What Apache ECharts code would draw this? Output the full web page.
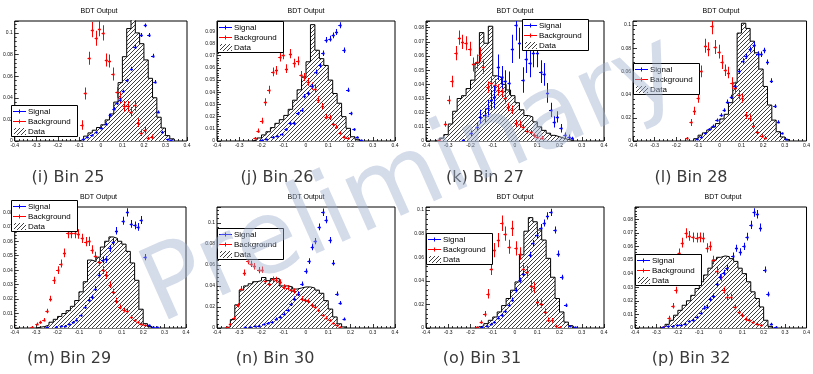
<!DOCTYPE html>
<html>
<head>
<meta charset="utf-8">
<script src="https://cdn.jsdelivr.net/npm/echarts@6/dist/echarts.min.js"></script>
<style>
  html, body { margin: 0; padding: 0; background: #fff; }
  #chart { width: 813px; height: 374px; }
</style>
</head>
<body>
<div id="chart"></div>
<script>
// ---- BDT output distributions, 8 categories -------------------------------
const binWidth = 0.02;          // data histogram bin width
const xRange = [-0.4, 0.4];
const xStep = 0.1;

const captions = ['(i) Bin 25', '(j) Bin 26', '(k) Bin 27', '(l) Bin 28',
                  '(m) Bin 29', '(n) Bin 30', '(o) Bin 31', '(p) Bin 32'];
const yMax  = [0.111, 0.0985, 0.0847, 0.1034, 0.0837, 0.115, 0.1025, 0.089];
const yStep = [0.02, 0.01, 0.01, 0.02, 0.01, 0.02, 0.02, 0.01];

// Data histograms: low edge of the first filled bin, then bin contents
const hI0 = -0.10;
const hI = [0.0015, 0.0045, 0.0075, 0.010, 0.0125, 0.015, 0.0195, 0.025, 0.036, 0.054, 0.078,
            0.104, 0.118, 0.100, 0.090, 0.075, 0.058, 0.040, 0.022, 0.012, 0.005, 0.002];
const hJ0 = -0.24;
const hJ = [0.0008, 0.0025, 0.005, 0.0076, 0.011, 0.0145, 0.0175, 0.021, 0.026, 0.0335, 0.042,
            0.0526, 0.065, 0.0955, 0.0745, 0.0676, 0.062, 0.05, 0.039, 0.031, 0.02, 0.0104,
            0.0035, 0.0014];
const hK0 = -0.36;
const hK = [0.0005, 0.002, 0.0045, 0.012, 0.021, 0.030, 0.032, 0.037, 0.043, 0.055, 0.0765,
            0.069, 0.081, 0.046, 0.045, 0.040, 0.036, 0.032, 0.027, 0.022, 0.018, 0.017,
            0.0135, 0.010, 0.0075, 0.0055, 0.004, 0.003, 0.002, 0.001, 0.0005];
const hL0 = -0.12;
const hL = [0.002, 0.005, 0.007, 0.0095, 0.012, 0.015, 0.019, 0.023, 0.033, 0.05, 0.093,
            0.1015, 0.097, 0.086, 0.076, 0.062, 0.047, 0.031, 0.018, 0.008, 0.0035, 0.0012];
const hM0 = -0.30;
const hM = [0.0005, 0.001, 0.002, 0.004, 0.006, 0.008, 0.010, 0.012, 0.015, 0.019, 0.025,
            0.032, 0.047, 0.046, 0.049, 0.056, 0.060, 0.063, 0.062, 0.060, 0.058, 0.053,
            0.045, 0.033, 0.013, 0.003, 0.001];
const hN0 = -0.36;
const hN = [0.001, 0.008, 0.022, 0.036, 0.040, 0.042, 0.044, 0.045, 0.048, 0.045, 0.047,
            0.047, 0.040, 0.040, 0.039, 0.037, 0.038, 0.039, 0.039, 0.038, 0.036, 0.033,
            0.026, 0.018, 0.0105, 0.004, 0.001];
const hO0 = -0.18;
const hO = [0.0008, 0.0018, 0.0037, 0.0065, 0.0093, 0.0136, 0.019, 0.025, 0.032, 0.039, 0.062,
            0.082, 0.0935, 0.090, 0.083, 0.0745, 0.059, 0.043, 0.025, 0.0136, 0.005, 0.002];
const hP0 = -0.28;
const hP = [0.0007, 0.0027, 0.0057, 0.0094, 0.013, 0.0167, 0.020, 0.024, 0.029, 0.034, 0.039,
            0.044, 0.050, 0.052, 0.053, 0.0525, 0.051, 0.049, 0.044, 0.040, 0.034, 0.0266,
            0.0217, 0.0155, 0.0057, 0.0012];

// Signal and background: [x, y, error]
const sigI = [[-0.081,0.0015,0.0005],[-0.063,0.0034,0.0006],[-0.043,0.0055,0.0008],[-0.022,0.008,0.001],
  [0.002,0.012,0.001],[0.024,0.016,0.0012],[0.043,0.024,0.0013],[0.06,0.03,0.0014],[0.074,0.035,0.0015],
  [0.089,0.038,0.0015],[0.104,0.046,0.0015],[0.12,0.056,0.0016],[0.142,0.067,0.0017],[0.157,0.087,0.0018],
  [0.187,0.098,0.0018],[0.206,0.107,0.0018],[0.222,0.098,0.0018],[0.24,0.079,0.0017],[0.25,0.055,0.0015],
  [0.266,0.027,0.0012],[0.286,0.0087,0.0008],[0.31,0.0015,0.0004],[0.325,0.0005,0.0003]];
const bkgI = [[-0.089,0.0148,0.0045],[-0.073,0.044,0.0055],[-0.055,0.0765,0.006],[-0.04,0.103,0.007],
  [-0.022,0.095,0.007],[-0.007,0.104,0.007],[0.01,0.1,0.007],[0.025,0.075,0.006],[0.04,0.074,0.006],
  [0.055,0.062,0.006],[0.074,0.045,0.005],[0.089,0.04,0.005],[0.108,0.032,0.005],[0.124,0.032,0.005],
  [0.139,0.027,0.0045],[0.157,0.033,0.005],[0.172,0.017,0.004],[0.187,0.0077,0.003],[0.203,0.01,0.003],
  [0.22,0.0025,0.0015],[0.236,0.004,0.002]];

const sigJ = [[-0.2,0.0008,0.0004],[-0.178,0.0014,0.0005],[-0.15,0.0035,0.0007],[-0.13,0.004,0.0008],
  [-0.11,0.0055,0.0009],[-0.09,0.0095,0.001],[-0.073,0.0145,0.0012],[-0.055,0.0145,0.0012],
  [-0.038,0.0226,0.0014],[-0.02,0.0254,0.0015],[-0.008,0.0368,0.0017],[0.01,0.039,0.0017],
  [0.026,0.045,0.0018],[0.044,0.0567,0.002],[0.062,0.062,0.002],[0.075,0.072,0.0022],[0.09,0.083,0.0023],
  [0.107,0.084,0.0023],[0.122,0.0867,0.0024],[0.137,0.0895,0.0024],[0.152,0.095,0.0025],
  [0.17,0.0745,0.0022],[0.187,0.042,0.0018],[0.2,0.0226,0.0014],[0.215,0.0095,0.001],
  [0.23,0.003,0.0006],[0.247,0.0008,0.0003]];
const bkgJ = [[-0.23,0.0022,0.001],[-0.216,0.0085,0.0018],[-0.2,0.0166,0.0025],[-0.183,0.032,0.003],
  [-0.168,0.042,0.0033],[-0.15,0.0567,0.0036],[-0.133,0.058,0.0036],[-0.118,0.069,0.0038],
  [-0.103,0.071,0.0038],[-0.088,0.0595,0.0036],[-0.07,0.0717,0.0038],[-0.053,0.064,0.0036],
  [-0.038,0.0657,0.0036],[-0.023,0.054,0.0034],[-0.008,0.0526,0.0033],[0.01,0.0485,0.0032],
  [0.025,0.045,0.003],[0.04,0.043,0.003],[0.055,0.034,0.0028],[0.074,0.0286,0.0026],[0.09,0.02,0.0022],
  [0.107,0.0194,0.0022],[0.122,0.0136,0.0018],[0.137,0.0117,0.0017],[0.152,0.0068,0.0013],
  [0.17,0.0035,0.001],[0.187,0.0022,0.0008]];

const sigK = [[-0.232,0.0007,0.0005],[-0.197,0.0054,0.002],[-0.17,0.010,0.003],[-0.157,0.017,0.005],
  [-0.137,0.018,0.005],[-0.122,0.023,0.006],[-0.107,0.029,0.007],[-0.093,0.031,0.008],[-0.075,0.052,0.009],
  [-0.06,0.045,0.008],[-0.045,0.042,0.008],[-0.027,0.041,0.008],[-0.012,0.065,0.01],[0.004,0.082,0.011],
  [0.02,0.069,0.011],[0.035,0.043,0.009],[0.05,0.058,0.01],[0.067,0.055,0.01],[0.082,0.062,0.01],
  [0.1,0.062,0.01],[0.115,0.049,0.008],[0.13,0.047,0.008],[0.146,0.034,0.007],[0.16,0.022,0.005],
  [0.176,0.0136,0.004],[0.19,0.017,0.004],[0.206,0.009,0.003],[0.224,0.004,0.002],[0.242,0.003,0.0015],
  [0.257,0.002,0.001]];
const bkgK = [[-0.343,0.001,0.0008],[-0.313,0.012,0.002],[-0.298,0.029,0.003],[-0.284,0.042,0.004],
  [-0.266,0.062,0.005],[-0.25,0.073,0.005],[-0.236,0.070,0.005],[-0.221,0.069,0.005],[-0.204,0.065,0.005],
  [-0.187,0.054,0.005],[-0.172,0.056,0.005],[-0.157,0.061,0.005],[-0.142,0.0525,0.005],[-0.122,0.038,0.004],
  [-0.107,0.041,0.004],[-0.09,0.0395,0.004],[-0.075,0.036,0.004],[-0.06,0.035,0.004],[-0.045,0.030,0.0035],
  [-0.03,0.024,0.003],[-0.012,0.022,0.003],[0.005,0.0125,0.0025],[0.022,0.012,0.0025],[0.037,0.010,0.002],
  [0.052,0.0073,0.002],[0.072,0.006,0.0018],[0.087,0.004,0.0015],[0.1,0.003,0.0013],[0.12,0.0024,0.0012]];

const sigL = [[-0.105,0.0014,0.0005],[-0.086,0.0037,0.0007],[-0.066,0.0066,0.0009],[-0.048,0.010,0.001],
  [-0.03,0.013,0.0012],[-0.014,0.018,0.0013],[0.006,0.0224,0.0015],[0.02,0.0267,0.0016],[0.035,0.034,0.0018],
  [0.053,0.038,0.0019],[0.069,0.047,0.002],[0.09,0.06,0.0022],[0.105,0.069,0.0023],[0.12,0.073,0.0024],
  [0.14,0.079,0.0025],[0.158,0.083,0.0025],[0.174,0.075,0.0024],[0.19,0.0747,0.0024],[0.205,0.078,0.0024],
  [0.22,0.068,0.0023],[0.238,0.052,0.002],[0.253,0.030,0.0016],[0.27,0.0167,0.0012],[0.286,0.0066,0.0008],
  [0.305,0.0014,0.0004]];
const bkgL = [[-0.153,0.0023,0.0012],[-0.133,0.016,0.003],[-0.117,0.026,0.0035],[-0.1,0.037,0.004],
  [-0.087,0.06,0.005],[-0.066,0.082,0.006],[-0.052,0.079,0.006],[-0.037,0.099,0.007],[-0.022,0.081,0.006],
  [-0.004,0.077,0.006],[0.01,0.068,0.006],[0.025,0.061,0.005],[0.04,0.059,0.005],[0.055,0.05,0.005],
  [0.072,0.046,0.005],[0.088,0.04,0.004],[0.103,0.037,0.004],[0.122,0.022,0.003],[0.138,0.02,0.003],
  [0.155,0.013,0.0025],[0.173,0.008,0.002],[0.193,0.0043,0.0015],[0.21,0.003,0.0013]];

const sigM = [[-0.25,0.0007,0.0003],[-0.206,0.001,0.0004],[-0.183,0.0014,0.0005],[-0.164,0.0016,0.0005],
  [-0.145,0.0025,0.0006],[-0.127,0.004,0.0008],[-0.112,0.0058,0.0009],[-0.092,0.0088,0.001],
  [-0.072,0.0146,0.0013],[-0.054,0.0197,0.0015],[-0.039,0.0215,0.0015],[-0.024,0.0273,0.0017],
  [-0.005,0.037,0.002],[0.01,0.047,0.0022],[0.027,0.0474,0.0022],[0.044,0.055,0.0024],[0.06,0.0597,0.0025],
  [0.075,0.0673,0.0026],[0.106,0.0742,0.0027],[0.126,0.08,0.0028],[0.144,0.072,0.0027],[0.16,0.071,0.0027],
  [0.175,0.07,0.0027],[0.19,0.0747,0.0027],[0.208,0.049,0.0022],[0.228,0.0018,0.0005],[0.245,0.001,0.0004],
  [0.265,0.0005,0.0003]];
const bkgM = [[-0.32,0.0007,0.0004],[-0.297,0.003,0.0008],[-0.28,0.004,0.001],[-0.265,0.0058,0.0012],
  [-0.25,0.0118,0.0016],[-0.233,0.0203,0.002],[-0.217,0.033,0.0025],[-0.2,0.040,0.0027],[-0.186,0.0446,0.0028],
  [-0.168,0.052,0.003],[-0.153,0.0654,0.0033],[-0.135,0.0654,0.0033],[-0.12,0.0654,0.0033],[-0.103,0.065,0.0033],
  [-0.085,0.062,0.0032],[-0.069,0.0597,0.0032],[-0.054,0.060,0.0032],[-0.039,0.0543,0.003],[-0.024,0.0497,0.003],
  [-0.005,0.0458,0.0028],[0.01,0.040,0.0027],[0.027,0.0365,0.0026],[0.045,0.030,0.0024],[0.06,0.025,0.0022],
  [0.075,0.019,0.002],[0.09,0.0146,0.0017],[0.11,0.0123,0.0016],[0.126,0.0116,0.0015],[0.144,0.0076,0.0012],
  [0.16,0.0053,0.001],[0.175,0.004,0.0009],[0.19,0.003,0.0008],[0.208,0.0018,0.0006]];

const sigN = [[-0.273,0.0006,0.0003],[-0.25,0.001,0.0004],[-0.231,0.0016,0.0005],[-0.213,0.0022,0.0006],
  [-0.19,0.0035,0.0007],[-0.171,0.0048,0.0008],[-0.153,0.0057,0.0009],[-0.134,0.0089,0.0011],
  [-0.116,0.0105,0.0012],[-0.1,0.0137,0.0013],[-0.083,0.0168,0.0015],[-0.068,0.0225,0.0017],
  [-0.052,0.028,0.0019],[-0.034,0.0327,0.002],[-0.019,0.042,0.0022],[-0.001,0.054,0.0025],
  [0.013,0.0635,0.0027],[0.028,0.077,0.003],[0.041,0.0825,0.003],[0.059,0.096,0.0032],[0.075,0.11,0.0035],
  [0.09,0.103,0.0034],[0.108,0.0835,0.003],[0.123,0.062,0.0027],[0.138,0.0327,0.002],[0.153,0.024,0.0017],
  [0.171,0.0089,0.001]];
const bkgN = [[-0.355,0.001,0.0005],[-0.34,0.0035,0.001],[-0.325,0.0095,0.0015],[-0.307,0.0216,0.002],
  [-0.292,0.0375,0.0025],[-0.277,0.0527,0.003],[-0.262,0.0635,0.003],[-0.247,0.061,0.003],[-0.232,0.0587,0.003],
  [-0.213,0.055,0.003],[-0.198,0.0555,0.003],[-0.183,0.0444,0.0027],[-0.165,0.042,0.0026],[-0.149,0.0463,0.0027],
  [-0.134,0.046,0.0027],[-0.116,0.0438,0.0026],[-0.1,0.039,0.0025],[-0.083,0.0384,0.0025],[-0.068,0.0365,0.0024],
  [-0.052,0.0352,0.0024],[-0.037,0.0327,0.0023],[-0.019,0.028,0.0021],[-0.004,0.0263,0.002],[0.011,0.0257,0.002],
  [0.028,0.0216,0.0019],[0.041,0.02,0.0018],[0.056,0.0168,0.0016],[0.075,0.012,0.0014],[0.09,0.0098,0.0013],
  [0.108,0.0073,0.0011],[0.123,0.0048,0.0009],[0.138,0.0025,0.0007],[0.153,0.001,0.0004]];

const sigO = [[-0.149,0.0008,0.0004],[-0.127,0.0017,0.0006],[-0.107,0.0037,0.0008],[-0.093,0.005,0.0009],
  [-0.075,0.0088,0.0012],[-0.06,0.0108,0.0013],[-0.045,0.0142,0.0014],[-0.027,0.0193,0.0016],
  [-0.012,0.024,0.0018],[0.004,0.032,0.002],[0.022,0.0405,0.0022],[0.037,0.046,0.0023],[0.067,0.062,0.0026],
  [0.079,0.0717,0.0028],[0.097,0.079,0.003],[0.115,0.085,0.003],[0.131,0.089,0.003],[0.146,0.095,0.0031],
  [0.16,0.098,0.0031],[0.179,0.083,0.003],[0.194,0.063,0.0026],[0.209,0.043,0.0022],[0.227,0.0193,0.0015],
  [0.246,0.0014,0.0004],[0.269,0.0008,0.0003]];
const bkgO = [[-0.172,0.0008,0.0005],[-0.152,0.005,0.0015],[-0.137,0.012,0.0025],[-0.122,0.029,0.004],
  [-0.107,0.05,0.005],[-0.093,0.066,0.006],[-0.075,0.0745,0.006],[-0.06,0.0887,0.0065],[-0.045,0.080,0.006],
  [-0.027,0.0688,0.006],[-0.012,0.0844,0.0065],[0.004,0.0674,0.006],[0.022,0.063,0.0055],[0.037,0.050,0.005],
  [0.052,0.0476,0.005],[0.072,0.0354,0.0045],[0.087,0.0343,0.0045],[0.101,0.022,0.0035],[0.119,0.0207,0.0035],
  [0.134,0.0136,0.003],[0.149,0.007,0.002],[0.167,0.0065,0.002],[0.186,0.0017,0.001],[0.2,0.0008,0.0007]];

const sigP = [[-0.27,0.0007,0.0003],[-0.247,0.0012,0.0004],[-0.225,0.0017,0.0005],[-0.202,0.002,0.0005],
  [-0.187,0.0025,0.0006],[-0.168,0.0032,0.0007],[-0.147,0.0049,0.0008],[-0.13,0.0057,0.0009],
  [-0.113,0.0081,0.001],[-0.094,0.011,0.0012],[-0.079,0.015,0.0013],[-0.064,0.0155,0.0014],
  [-0.049,0.021,0.0016],[-0.034,0.0236,0.0017],[-0.019,0.032,0.002],[-0.004,0.0377,0.0021],
  [0.013,0.0406,0.0022],[0.028,0.0443,0.0023],[0.055,0.053,0.0025],[0.073,0.0586,0.0026],[0.091,0.056,0.0026],
  [0.107,0.060,0.0027],[0.122,0.0672,0.0028],[0.14,0.0758,0.003],[0.155,0.085,0.0031],[0.17,0.0837,0.0031],
  [0.185,0.0739,0.003],[0.204,0.043,0.0023],[0.219,0.0249,0.0018],[0.236,0.0032,0.0007],[0.256,0.0007,0.0003]];
const bkgP = [[-0.27,0.0005,0.0004],[-0.242,0.0076,0.0015],[-0.224,0.0163,0.002],[-0.21,0.0278,0.0025],
  [-0.195,0.055,0.0035],[-0.18,0.0628,0.0035],[-0.162,0.0697,0.0037],[-0.147,0.0677,0.0036],
  [-0.131,0.0667,0.0036],[-0.113,0.0665,0.0036],[-0.098,0.0667,0.0036],[-0.083,0.0665,0.0036],
  [-0.064,0.059,0.0034],[-0.049,0.0603,0.0034],[-0.034,0.05,0.0032],[-0.019,0.0418,0.003],
  [-0.001,0.0372,0.0028],[0.013,0.0278,0.0025],[0.028,0.0229,0.0023],[0.046,0.0229,0.0023],
  [0.065,0.0155,0.0019],[0.085,0.0118,0.0017],[0.1,0.0094,0.0015],[0.117,0.0069,0.0013],
  [0.132,0.0062,0.0012],[0.15,0.0044,0.001],[0.17,0.0032,0.0009],[0.189,0.002,0.0007]];

const histStarts = [hI0, hJ0, hK0, hL0, hM0, hN0, hO0, hP0];
const histVals   = [hI, hJ, hK, hL, hM, hN, hO, hP];
const signals    = [sigI, sigJ, sigK, sigL, sigM, sigN, sigO, sigP];
const backgrounds = [bkgI, bkgJ, bkgK, bkgL, bkgM, bkgN, bkgO, bkgP];

// ---- layout ---------------------------------------------------------------
const frames = [[11, 21, 176, 120], [217, 21, 178, 120], [426, 21, 178, 120], [633, 21, 176, 120],
                [11, 207, 175, 121], [217, 207, 178, 121], [426, 207, 178, 121], [635, 207, 176, 121]];
const legendAt = [[11, 105], [217, 21], [522, 19], [633, 63], [11, 200], [217, 228], [426, 233], [635, 254]];
const captionAt = [[68, 178], [277, 178], [485, 178], [691, 178], [69, 359], [275, 359], [482, 359], [691, 359]];

const SIG = '#0000ff';
const BKG = '#ff0000';
const xHalf = 0.007;
const tickFont = 'Liberation Sans';

// diagonal hatch used for the data histogram
function makeHatch() {
  const c = document.createElement('canvas');
  c.width = 4; c.height = 4;
  const g = c.getContext('2d');
  g.fillStyle = '#ffffff';
  g.fillRect(0, 0, 4, 4);
  g.strokeStyle = '#2a2a2a';
  g.lineWidth = 0.9;
  g.beginPath();
  g.moveTo(-1, 5); g.lineTo(5, -1);
  g.moveTo(-1, 1); g.lineTo(1, -1);
  g.moveTo(3, 5); g.lineTo(5, 3);
  g.stroke();
  return c;
}
const hatch = { image: makeHatch(), repeat: 'repeat' };

// step outline through the bin edges of a histogram
function stepPoints(start, vals) {
  const pts = [[start, 0]];
  vals.forEach((v, i) => pts.push([start + i * binWidth, v]));
  pts.push([start + vals.length * binWidth, 0]);
  return pts;
}

// error cross: vertical error bar, short horizontal arm and a small dot, all as filled rects
function errorBars(color) {
  return function (params, api) {
    const x = api.value(0), y = api.value(1), e = api.value(2);
    const c = api.coord([x, y]);
    const top = api.coord([x, y + e])[1];
    const bot = api.coord([x, y - e])[1];
    const l = api.coord([x - xHalf, y])[0];
    const r = api.coord([x + xHalf, y])[0];
    const cx = Math.round(c[0]), cy = Math.round(c[1]);
    return {
      type: 'group',
      children: [
        { type: 'rect', shape: { x: cx, y: top, width: 1, height: Math.max(1, bot - top) }, style: { fill: color } },
        { type: 'rect', shape: { x: l, y: cy, width: r - l, height: 1 }, style: { fill: color } },
        { type: 'rect', shape: { x: cx - 0.5, y: cy - 0.5, width: 2, height: 2 }, style: { fill: color } }
      ]
    };
  };
}

function fmtX(v) { const r = Math.round(v * 10) / 10; return r === 0 ? '0' : String(r); }
function fmtY(v) { return v === 0 ? '0' : String(+v.toFixed(3)); }

const grid = [], xAxis = [], yAxis = [], series = [], graphic = [];

frames.forEach((f, i) => {
  // the frame itself is the grid border
  grid.push({ left: f[0], top: f[1], width: f[2], height: f[3], show: true,
              borderColor: '#000', borderWidth: 1, backgroundColor: '#fff' });
  xAxis.push({
    type: 'value', gridIndex: i, min: xRange[0], max: xRange[1], interval: xStep,
    axisLine: { show: false, onZero: false },
    axisTick: { show: true, inside: true, length: 4, lineStyle: { color: '#000', width: 0.8 } },
    minorTick: { show: true, splitNumber: 5, length: 2, lineStyle: { color: '#000', width: 0.8 } },
    splitLine: { show: false },
    axisLabel: { fontSize: 5, margin: 2, color: '#111', fontFamily: tickFont, formatter: fmtX }
  });
  yAxis.push({
    type: 'value', gridIndex: i, min: 0, max: yMax[i], interval: yStep[i],
    axisLine: { show: false, onZero: false },
    axisTick: { show: true, inside: true, length: 4, lineStyle: { color: '#000', width: 0.8 } },
    minorTick: { show: true, splitNumber: 5, length: 2, lineStyle: { color: '#000', width: 0.8 } },
    splitLine: { show: false },
    axisLabel: { fontSize: 5, margin: 2, color: '#111', fontFamily: tickFont, formatter: fmtY,
                 showMaxLabel: false }
  });

  series.push({
    type: 'line', xAxisIndex: i, yAxisIndex: i, step: 'end', showSymbol: false, silent: true,
    data: stepPoints(histStarts[i], histVals[i]), clip: true, z: 2,
    lineStyle: { color: '#000', width: 1 },
    areaStyle: { color: hatch, opacity: 1 }
  });
  series.push({
    type: 'custom', coordinateSystem: 'cartesian2d', xAxisIndex: i, yAxisIndex: i, clip: true, z: 3,
    silent: true, renderItem: errorBars(BKG), encode: { x: 0, y: 1 }, data: backgrounds[i]
  });
  series.push({
    type: 'custom', coordinateSystem: 'cartesian2d', xAxisIndex: i, yAxisIndex: i, clip: true, z: 4,
    silent: true, renderItem: errorBars(SIG), encode: { x: 0, y: 1 }, data: signals[i]
  });

  // title above each frame
  graphic.push({
    type: 'text', x: f[0] + f[2] / 2, y: f[1] - 10, z: 20,
    style: { text: 'BDT Output', fill: '#000', font: '7px "Liberation Sans"', align: 'center', verticalAlign: 'middle' }
  });

  // legend box
  const [lx, ly] = legendAt[i];
  const lf = '8px "Liberation Sans"';
  graphic.push({
    type: 'group', x: lx, y: ly, z: 50,
    children: [
      { type: 'rect', z: 50, shape: { x: 0.5, y: 0.5, width: 66, height: 31 }, style: { fill: '#fff', stroke: '#000', lineWidth: 1 } },
      { type: 'rect', z: 51, shape: { x: 2, y: 6, width: 13, height: 1 }, style: { fill: SIG } },
      { type: 'rect', z: 51, shape: { x: 8, y: 4.5, width: 1, height: 4 }, style: { fill: SIG } },
      { type: 'text', z: 51, x: 17, y: 6.5, style: { text: 'Signal', fill: '#000', font: lf, verticalAlign: 'middle' } },
      { type: 'rect', z: 51, shape: { x: 2, y: 16, width: 13, height: 1 }, style: { fill: BKG } },
      { type: 'rect', z: 51, shape: { x: 8, y: 14.5, width: 1, height: 4 }, style: { fill: BKG } },
      { type: 'text', z: 51, x: 17, y: 16.5, style: { text: 'Background', fill: '#000', font: lf, verticalAlign: 'middle' } },
      { type: 'rect', z: 51, shape: { x: 3, y: 23, width: 12, height: 7 }, style: { fill: hatch } },
      { type: 'text', z: 51, x: 17, y: 26.5, style: { text: 'Data', fill: '#000', font: lf, verticalAlign: 'middle' } }
    ]
  });

  // sub-figure caption
  graphic.push({
    type: 'text', x: captionAt[i][0], y: captionAt[i][1], z: 20,
    style: { text: captions[i], fill: '#3a3a3a', font: '16px "DejaVu Sans"', align: 'center', verticalAlign: 'middle' }
  });
});

// watermark across the whole figure
graphic.push({
  type: 'text', x: 412, y: 182, rotation: 24 * Math.PI / 180, z: 100,
  style: { text: 'Preliminary', fill: 'rgba(160,176,206,0.45)', font: '102px "DejaVu Sans"',
           align: 'center', verticalAlign: 'middle' }
});

const chart = echarts.init(document.getElementById('chart'), null, { renderer: 'canvas' });
chart.setOption({ animation: false, backgroundColor: '#fff', grid, xAxis, yAxis, series, graphic });

// hide any stray hairline spanning a whole frame height (no data mark is that tall)
const zr = chart.getZr();
let stray = 0;
zr.storage.getDisplayList(true).forEach(el => {
  const r = el.getBoundingRect().clone();
  if (el.transform) r.applyTransform(el.transform);
  if (r.width < 3 && r.height > 90) { el.ignore = true; el.markRedraw && el.markRedraw(); stray++; }
});
if (stray) zr.refreshImmediately();
</script>
</body>
</html>
